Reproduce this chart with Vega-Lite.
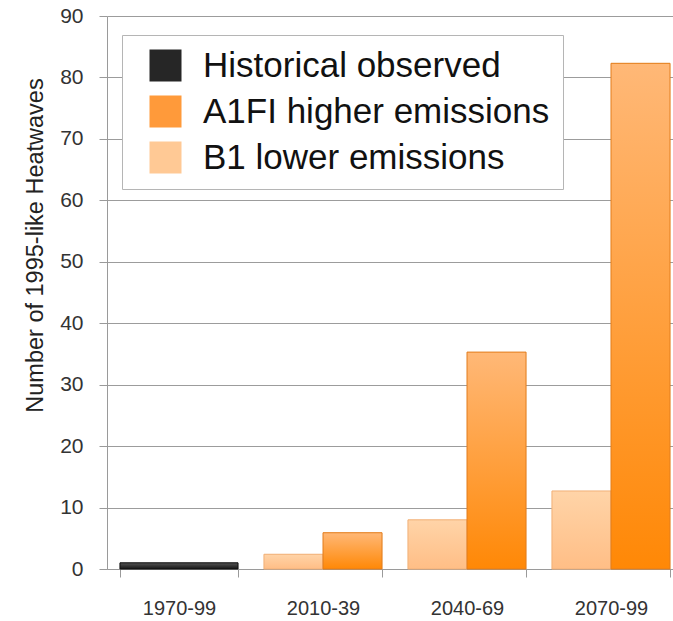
{
  "$schema": "https://vega.github.io/schema/vega-lite/v6.json",
  "width": 566,
  "height": 553,
  "autosize": {"type": "none"},
  "padding": {"left": 107, "top": 16, "right": 0, "bottom": 52},
  "background": "white",
  "config": {
    "font": "Liberation Sans",
    "view": {"stroke": null}
  },
  "datasets": {
    "historical": [
      {"period": "1970-99", "series": "Historical observed", "heatwaves": 1}
    ],
    "projections": [
      {"period": "2010-39", "series": "B1 lower emissions", "heatwaves": 2.4},
      {"period": "2010-39", "series": "A1FI higher emissions", "heatwaves": 5.9},
      {"period": "2040-69", "series": "B1 lower emissions", "heatwaves": 8},
      {"period": "2040-69", "series": "A1FI higher emissions", "heatwaves": 35.3},
      {"period": "2070-99", "series": "B1 lower emissions", "heatwaves": 12.7},
      {"period": "2070-99", "series": "A1FI higher emissions", "heatwaves": 82.3}
    ]
  },
  "encoding": {
    "x": {
      "field": "period",
      "type": "nominal",
      "scale": {
        "domain": ["1970-99", "2010-39", "2040-69", "2070-99"],
        "range": [0, 576],
        "paddingInner": 0.18,
        "paddingOuter": 0.09
      },
      "axis": {
        "title": null,
        "labelAngle": 0,
        "labelFontSize": 20,
        "labelColor": "#333333",
        "labelPadding": 21,
        "tickBand": "extent",
        "tickSize": 8,
        "tickColor": "#9a9a9a",
        "domainColor": "#9a9a9a",
        "grid": false
      }
    },
    "y": {
      "field": "heatwaves",
      "type": "quantitative",
      "scale": {"domain": [0, 90], "nice": false},
      "axis": {
        "values": [0, 10, 20, 30, 40, 50, 60, 70, 80, 90],
        "title": "Number of 1995-like Heatwaves",
        "titleFontSize": 23.5,
        "titleFontWeight": "normal",
        "titleColor": "#222222",
        "titleAngle": -90,
        "titleAlign": "center",
        "titleBaseline": "alphabetic",
        "titleX": -65,
        "titleY": 229,
        "labelFontSize": 21,
        "labelColor": "#333333",
        "labelPadding": 16,
        "tickSize": 8,
        "tickColor": "#9a9a9a",
        "domainColor": "#9a9a9a",
        "grid": true,
        "gridColor": "#9c9c9c",
        "gridWidth": 1.2
      }
    }
  },
  "layer": [
    {
      "data": {"name": "historical"},
      "mark": {"type": "bar"},
      "encoding": {
        "color": {
          "field": "series",
          "type": "nominal",
          "scale": {
            "domain": ["Historical observed", "A1FI higher emissions", "B1 lower emissions"],
            "range": ["#262626", "#ff9a3a", "#ffc995"]
          },
          "legend": {
            "orient": "none",
            "legendX": 15,
            "legendY": 19,
            "title": null,
            "fillColor": "white",
            "strokeColor": "#b5b5b5",
            "padding": 13,
            "symbolType": "square",
            "symbolSize": 1024,
            "symbolOffset": 13,
            "symbolStrokeWidth": 0,
            "labelFontSize": 35,
            "labelColor": "#111111",
            "labelOffset": 20,
            "labelLimit": 0,
            "rowPadding": 10
          }
        }
      }
    },
    {
      "data": {"name": "projections"},
      "mark": {"type": "bar"},
      "encoding": {
        "color": {"field": "series", "type": "nominal"},
        "xOffset": {
          "field": "series",
          "type": "nominal",
          "scale": {
            "domain": ["B1 lower emissions", "A1FI higher emissions"],
            "paddingInner": 0,
            "paddingOuter": 0
          }
        }
      }
    },
    {
      "data": {"name": "historical"},
      "mark": {
        "type": "bar",
        "strokeWidth": 1,
        "stroke": "#111111",
        "fill": {"gradient": "linear", "x1": 0, "y1": 0, "x2": 0, "y2": 1,
                 "stops": [{"offset": 0, "color": "#555555"}, {"offset": 1, "color": "#151515"}]}
      }
    },
    {
      "data": {"name": "projections"},
      "mark": {"type": "bar", "strokeWidth": 1},
      "encoding": {
        "xOffset": {"field": "series", "type": "nominal"},
        "fill": {
          "condition": {
            "test": "datum.series === 'A1FI higher emissions'",
            "value": {"gradient": "linear", "x1": 0, "y1": 0, "x2": 0, "y2": 1,
                      "stops": [{"offset": 0, "color": "#ffb877"}, {"offset": 1, "color": "#ff8806"}]}
          },
          "value": {"gradient": "linear", "x1": 0, "y1": 0, "x2": 0, "y2": 1,
                    "stops": [{"offset": 0, "color": "#ffd4a8"}, {"offset": 1, "color": "#ffbe86"}]}
        },
        "stroke": {
          "condition": {"test": "datum.series === 'A1FI higher emissions'", "value": "#e27d1c"},
          "value": "#f1b078"
        }
      }
    }
  ]
}
